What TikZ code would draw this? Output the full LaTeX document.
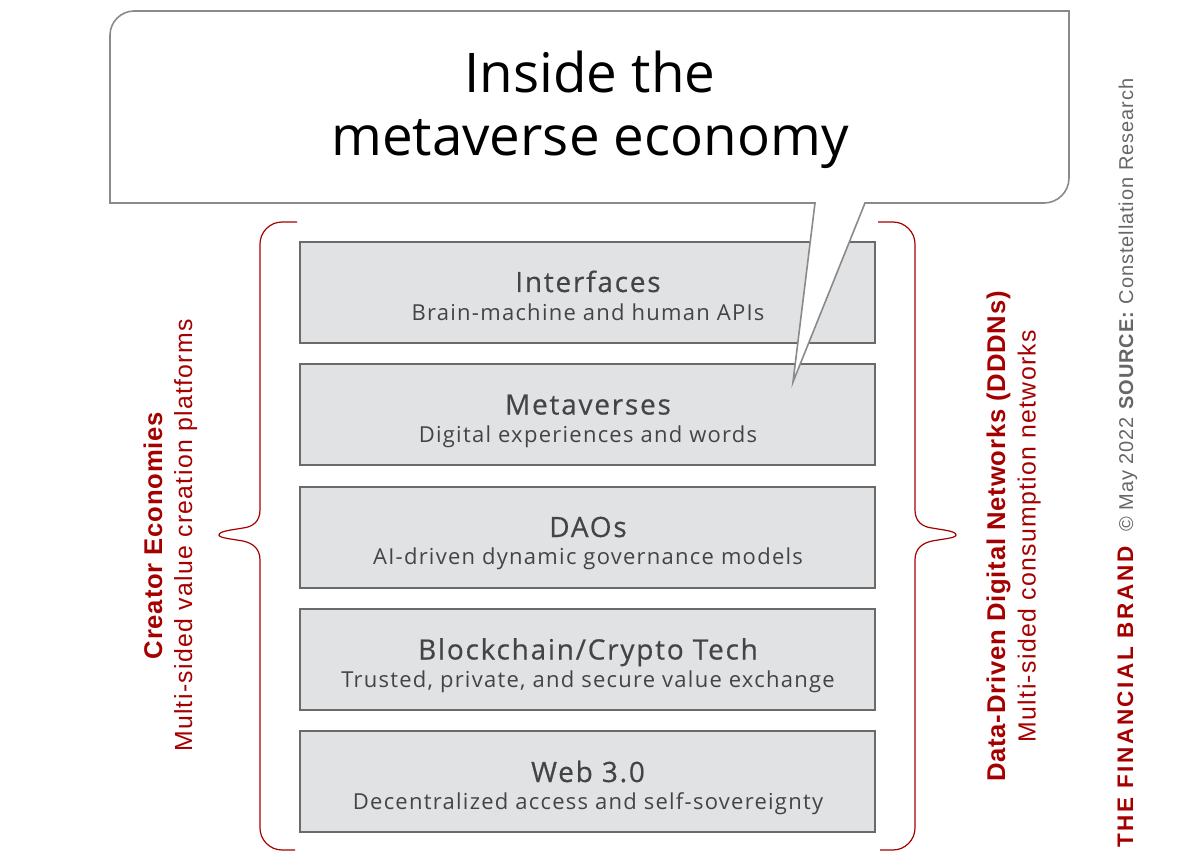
\documentclass[tikz,border=0pt]{standalone}
\usepackage{fontspec}
\setmainfont{Open Sans}
\newfontfamily\arialf[LetterSpace=5.4]{Liberation Sans}
\newfontfamily\arialh[LetterSpace=3.2]{Liberation Sans}
\newfontfamily\arials[LetterSpace=4.7]{Liberation Sans}
\newfontfamily\headf[LetterSpace=6.3,FakeBold=0.5]{Open Sans}
\newfontfamily\subf[LetterSpace=5.7]{Open Sans}
\newfontfamily\brandf[LetterSpace=11.5]{Liberation Sans}
\definecolor{boxfill}{HTML}{E1E2E4}
\definecolor{boxline}{HTML}{6A6A6A}
\definecolor{bubline}{HTML}{8A8A8A}
\definecolor{brandred}{HTML}{A50000}
\definecolor{txt}{HTML}{444444}
\definecolor{srctxt}{HTML}{666666}
\newcommand{\fs}[1]{\fontsize{#1}{#1}\selectfont}
\tikzset{x=1pt,y=-1pt,
 layerbox/.style={draw=boxline,fill=boxfill,line width=1.4pt,minimum width=575pt,minimum height=101pt,inner sep=0pt,outer sep=0pt,anchor=north west},
 layerhead/.style={text=txt,inner sep=0pt,anchor=base,font=\headf\fs{28}},
 layersub/.style={text=txt,inner sep=0pt,anchor=base,font=\subf\fs{22}},
 titletext/.style={inner sep=0pt,text=black,anchor=base,font=\fs{54.7}},
 brace/.style={draw=brandred,line width=1.2pt,line join=round},
 sidehead/.style={rotate=90,anchor=base,text=brandred,inner sep=0pt,font=\arialh\bfseries\fs{25.65}},
 sidesub/.style={rotate=90,anchor=base,text=brandred,inner sep=0pt,font=\arialf\fs{24.8}},
}
\begin{document}
\begin{tikzpicture}
\useasboundingbox (0,0) rectangle (1179,853);
\node[layerbox] (b1) at (300,242) {};
\node[layerbox] (b2) at (300,364) {};
\node[layerbox] (b3) at (300,487) {};
\node[layerbox] (b4) at (300,609) {};
\node[layerbox] (b5) at (300,731) {};
\node[layerhead] (h1) at (588,292) {Interfaces};
\node[layersub] (s1) at (588,320) {Brain-machine and human APIs};
\node[layerhead] (h2) at (588,414.5) {Metaverses};
\node[layersub] (s2) at (588,442) {Digital experiences and words};
\node[layerhead] (h3) at (588,537) {DAOs};
\node[layersub] (s3) at (588,564.5) {AI-driven dynamic governance models};
\node[layerhead] (h4) at (588,659.5) {Blockchain/Crypto Tech};
\node[layersub] (s4) at (588,687) {Trusted, private, and secure value exchange};
\node[layerhead] (h5) at (588,782) {Web 3.0};
\node[layersub] (s5) at (588,809) {Decentralized access and self-sovereignty};
% speech bubble
\draw[draw=bubline,fill=white,line width=1.6pt,line join=miter]
 (110,203) -- (815,203) -- (793,382) -- (865,203) -- (1044,203)
 arc[start angle=90,end angle=0,radius=25,x=1pt,y=1pt]
 -- (1069,11) -- (134,11)
 .. controls (121,11) and (110,22) .. (110,35) -- cycle;
\node[titletext] (t1) at (590,93) {Inside the};
\node[titletext] (t2) at (590,156) {metaverse economy};
% braces
\draw[brace] (297,222) -- (282,222) .. controls (270,222) and (260,232) .. (260,244)
 -- (260,510) .. controls (260,522) and (252,527) .. (243,528)
 .. controls (232,530) and (219,531) .. (219,535)
 .. controls (219,538) and (232,539) .. (243,541)
 .. controls (252,543) and (260,548) .. (260,560)
 -- (260,828) .. controls (260,840) and (270,850) .. (282,850) -- (295,850);
\draw[brace] (878,222) -- (893,222) .. controls (905,222) and (915,232) .. (915,244)
 -- (915,510) .. controls (915,522) and (923,527) .. (932,528)
 .. controls (943,530) and (956,531) .. (956,535)
 .. controls (956,538) and (943,539) .. (932,541)
 .. controls (923,543) and (915,548) .. (915,560)
 -- (915,828) .. controls (915,840) and (905,850) .. (893,850) -- (880,850);
% side labels
\node[sidehead] (l1) at (162,535.5) {Creator Economies};
\node[sidesub] (l2) at (192,535.5) {Multi-sided value creation platforms};
\node[sidehead] (r1) at (1005,536.5) {Data-Driven Digital Networks (DDDNs)};
\node[sidesub] (r2) at (1035.5,536) {Multi-sided consumption networks};
\node[rotate=90,anchor=base west,inner sep=0pt,text=brandred,font=\brandf\bfseries\fs{22.5}] (c1) at (1133,848) {THE FINANCIAL BRAND};
\node[rotate=90,anchor=base west,inner sep=0pt,text=srctxt,font=\arials\fs{20}] (c2) at (1133,532) {© May 2022 \textbf{SOURCE:} Constellation Research};
\end{tikzpicture}
\end{document}
